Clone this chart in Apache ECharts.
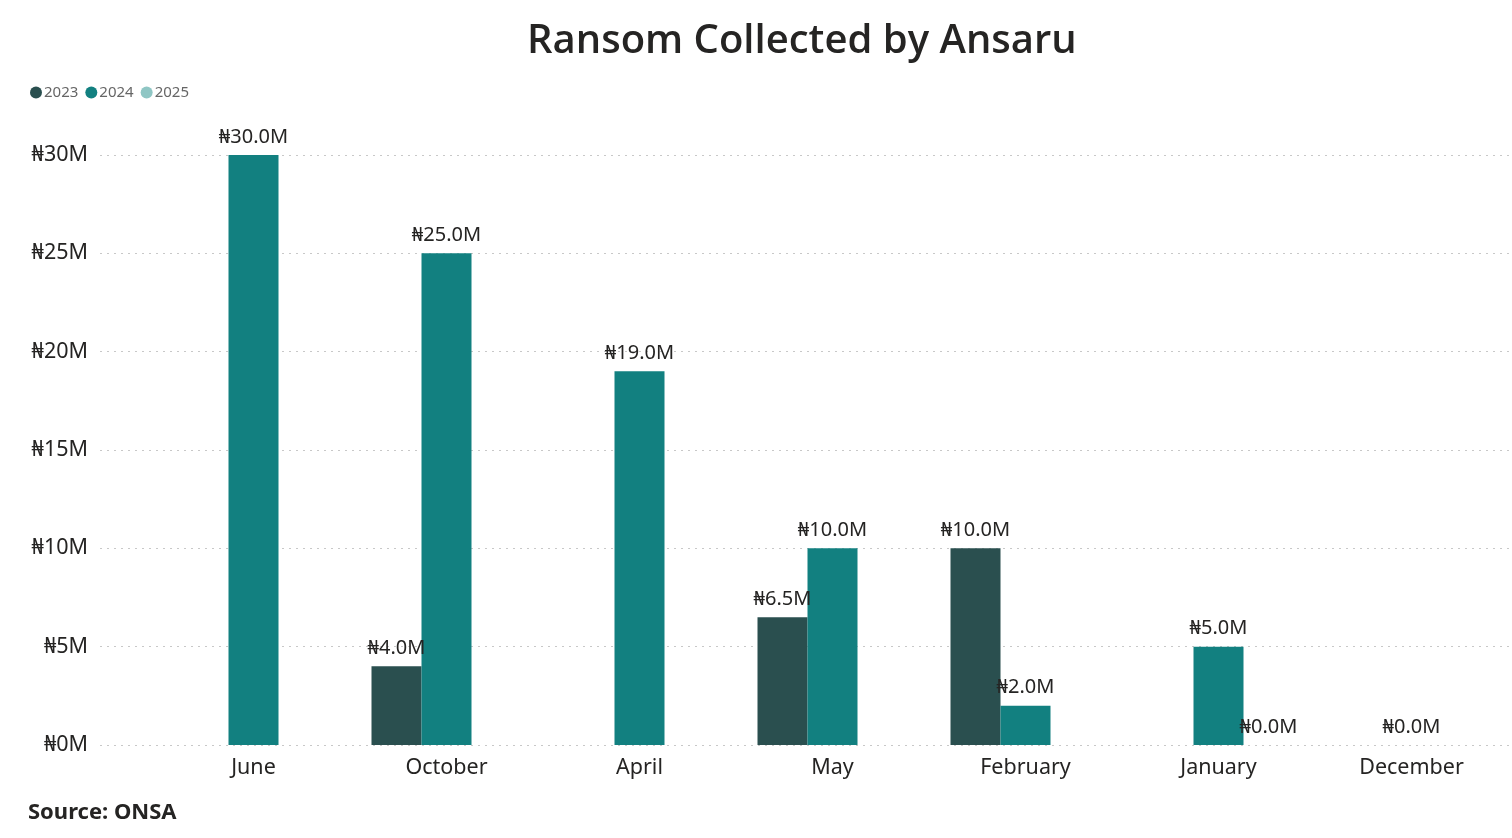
<!DOCTYPE html>
<html>
<head>
<meta charset="utf-8">
<script src="https://cdn.jsdelivr.net/npm/echarts@6/dist/echarts.min.js"></script>
<style>
  html, body { margin: 0; padding: 0; background: #ffffff; }
  #chart { width: 1512px; height: 838px; }
</style>
</head>
<body>
<div id="chart"></div>
<script>
// values in millions of naira
const months = ['June', 'October', 'April', 'May', 'February', 'January', 'December'];
const years = ['2023', '2024', '2025'];
const ransom2023 = [null, 4.0, null, 6.5, 10.0, null, null];
const ransom2024 = [30.0, 25.0, 19.0, 10.0, 2.0, 5.0, 0.0];
const ransom2025 = [null, null, null, null, null, 0.0, null];
const yTicks = [0, 5, 10, 15, 20, 25, 30];

const colors = ['#2a4f4f', '#128080', '#8fc6c4'];
const fontFamily = "'Noto Sans', 'DejaVu Sans', sans-serif";

const chart = echarts.init(document.getElementById('chart'));

const barSeries = (name, data, color) => ({
    name: name,
    type: 'bar',
    xAxisIndex: 1,
    yAxisIndex: 1,
    data: data,
    barWidth: 50,
    barGap: '0%',
    itemStyle: { color: color },
    label: {
        show: true,
        position: 'top',
        distance: 8,
        color: '#252423',
        fontSize: 20,
        fontFamily: fontFamily,
        formatter: p => '₦' + p.value.toFixed(1) + 'M'
    }
});

const option = {
    backgroundColor: '#ffffff',
    animation: false,
    title: {
        text: 'Ransom Collected by Ansaru',
        left: 522,
        top: 17,
        textStyle: {
            color: '#252423',
            fontSize: 40,
            fontWeight: 600,
            fontFamily: "'Open Sans', 'Noto Sans', sans-serif"
        }
    },
    legend: {
        data: years,
        left: 25,
        top: 80,
        icon: 'circle',
        itemWidth: 12,
        itemHeight: 12,
        itemGap: 7,
        textStyle: { color: '#666666', fontSize: 15, fontFamily: fontFamily, padding: [0, 0, 0, -3] }
    },
    color: colors,
    graphic: [{
        type: 'text',
        left: 28,
        top: 802,
        style: {
            text: 'Source: ONSA',
            fill: '#252423',
            font: "bold 22px 'Noto Sans', 'DejaVu Sans', sans-serif"
        }
    }],
    grid: [
        // wide grid: gridlines and y labels
        { left: 100, right: 2, top: 155, bottom: 93, containLabel: false },
        // bar grid
        { left: 157, right: 4, top: 155, bottom: 93, containLabel: false }
    ],
    xAxis: [
        { type: 'category', gridIndex: 0, data: months, show: false },
        {
            type: 'category',
            gridIndex: 1,
            data: months,
            axisLine: { show: false },
            axisTick: { show: false },
            axisLabel: {
                color: '#252423',
                fontSize: 21.5,
                margin: 12,
                fontFamily: fontFamily
            }
        }
    ],
    yAxis: [
        {
            type: 'value',
            gridIndex: 0,
            min: 0,
            max: 30,
            interval: 5,
            axisLine: { show: false },
            axisTick: { show: false },
            axisLabel: {
                color: '#252423',
                fontSize: 21.5,
                margin: 12,
                fontFamily: fontFamily,
                formatter: v => yTicks.includes(v) ? '₦' + v + 'M' : ''
            },
            splitLine: {
                lineStyle: { color: '#c8c8c8', type: [2, 5], width: 1 }
            }
        },
        {
            type: 'value',
            gridIndex: 1,
            min: 0,
            max: 30,
            interval: 5,
            show: false
        }
    ],
    series: [
        barSeries(years[0], ransom2023, colors[0]),
        barSeries(years[1], ransom2024, colors[1]),
        barSeries(years[2], ransom2025, colors[2])
    ]
};

chart.setOption(option);
</script>
</body>
</html>
